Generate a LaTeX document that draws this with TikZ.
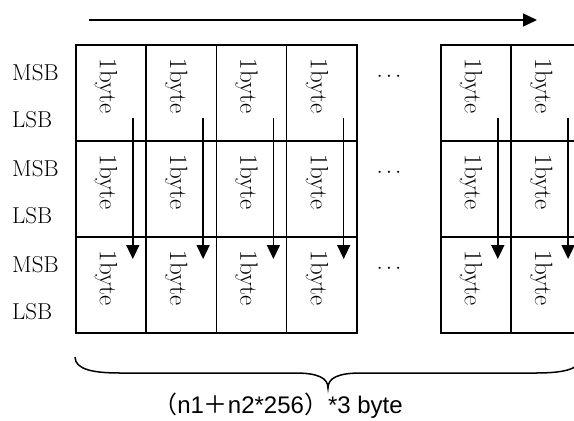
\documentclass[tikz,border=0pt]{standalone}
\usepackage{fontspec}
\newfontfamily\lblsans{Liberation Sans}
\newfontfamily\cjk{Noto Sans CJK SC}
\usetikzlibrary{arrows.meta}
\tikzset{
  cell/.style={draw, line width=1.5pt, minimum width=70.3pt, minimum height=96pt, inner sep=0pt, anchor=north west},
  bytetxt/.style={rotate=-90, font=\fontsize{25}{25}\selectfont, inner sep=0pt},
  sidelbl/.style={anchor=west, font=\fontsize{23}{23}\selectfont, inner sep=0pt},
  dotlbl/.style={font=\fontsize{21}{21}\selectfont, inner sep=0pt},
  flow/.style={line width=1.5pt, -{Triangle[length=14pt,width=13pt]}},
}
\begin{document}
\begin{tikzpicture}[x=1pt,y=-1pt]
\useasboundingbox (0,0) rectangle (574,421);
\clip (0,0) rectangle (574,421);
% columns
\foreach \c/\x in {1/75,2/145.3,3/215.6,4/285.9,5/440,6/510.3}{
  \foreach \r/\y in {1/44,2/140,3/236}{
    \node[cell] (c\c r\r) at (\x,\y) {};
    \node[bytetxt] (t\c r\r) at (\x+31,\y+42) {1byte};
  }
}
% side labels
\foreach \r/\y in {1/44,2/140,3/236}{
  \node[sidelbl] (msb\r) at (12,\y+29) {MSB};
  \node[sidelbl] (lsb\r) at (12,\y+76) {LSB};
  \node[dotlbl] (dots\r) at (389,\y+33) {$\cdots$};
}
% top arrow
\coordinate (ta) at (89,20);
\coordinate (tb) at (537,20);
\draw[flow] (ta) -- (tb);
% vertical arrows
\foreach \c in {1,2,3,4,5,6}{
  \coordinate (va\c) at ([xshift=-14pt,yshift=24pt]c\c r1.south east);
  \coordinate (vb\c) at ([xshift=-14pt,yshift=-23pt]c\c r3.north east);
  \draw[flow] (va\c) -- (vb\c);
}
% brace
\coordinate (bl) at (75,357);
\coordinate (br) at (581,357);
\coordinate (bt) at (328,388);
\draw[line width=1.5pt] (bl) .. controls (75,370) and (95,373) .. (120,373)
  -- (295,373) .. controls (318,373) and (328,378) .. (bt)
  .. controls (328,378) and (338,373) .. (361,373)
  -- (536,373) .. controls (561,373) and (581,370) .. (br);
\node[font=\fontsize{24}{24}\selectfont, inner sep=0pt] (lbl) at (278,406)
  {{\cjk （}{\lblsans n1}{\cjk ＋}{\lblsans n2*256}{\cjk ）}{\lblsans *3 byte}};
\end{tikzpicture}
\end{document}
